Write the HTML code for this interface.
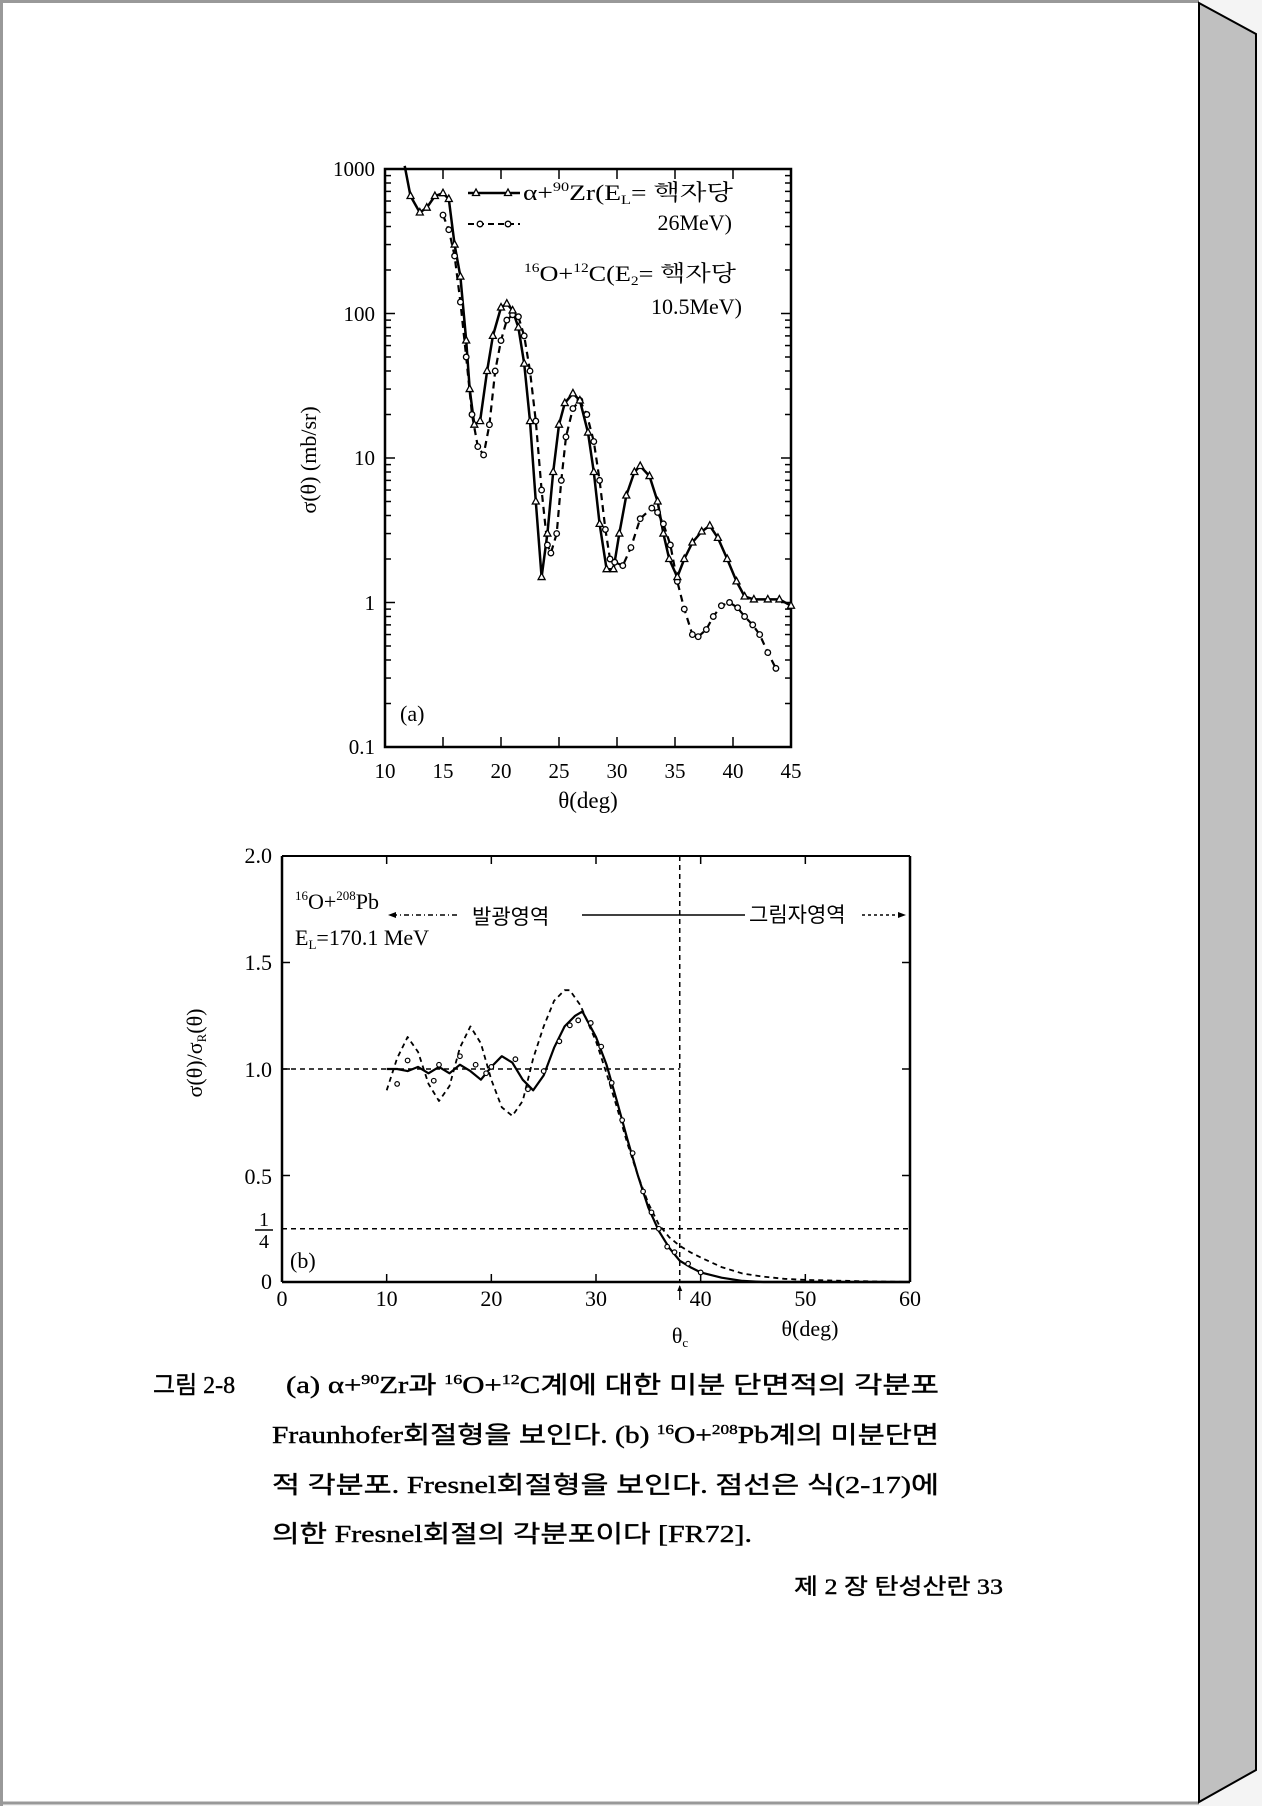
<!DOCTYPE html>
<html><head><meta charset="utf-8">
<style>
html,body{margin:0;padding:0;background:#f4f4f4;}
body{width:1262px;height:1806px;position:relative;overflow:hidden;font-family:"Liberation Serif","Noto Serif CJK SC","Noto Sans CJK KR",serif;}
svg{position:absolute;left:0;top:0;}
</style></head><body>
<svg id="s" width="1262" height="1806" xmlns="http://www.w3.org/2000/svg" font-family="'Liberation Serif','Noto Serif CJK SC','Noto Sans CJK KR',serif" fill="#000">
<rect x="0" y="0" width="1200" height="1803" fill="#fff"/>
<line x1="0" y1="1.5" x2="1199" y2="1.5" stroke="#999" stroke-width="3"/>
<line x1="0" y1="1803" x2="1199" y2="1803" stroke="#999" stroke-width="3"/>
<line x1="1.5" y1="0" x2="1.5" y2="1806" stroke="#999" stroke-width="3"/>
<polygon points="1199,3 1256,34 1256,1770 1199,1802" fill="#c0c0c0" stroke="#000" stroke-width="2"/>
<g id="g"></g>
<g font-size="21">
<text x="375" y="176" text-anchor="end">1000</text>
<text x="375" y="321" text-anchor="end">100</text>
<text x="375" y="465" text-anchor="end">10</text>
<text x="375" y="610" text-anchor="end">1</text>
<text x="375" y="754" text-anchor="end">0.1</text>
<text x="588" y="808" text-anchor="middle" font-size="23">θ(deg)</text>
<text transform="translate(316,460) rotate(-90)" text-anchor="middle" font-size="22">σ(θ) (mb/sr)</text>
<text x="400" y="721" font-size="22">(a)</text>
<text x="523" y="200" font-size="22" textLength="210" lengthAdjust="spacingAndGlyphs">α+<tspan font-size="13" dy="-9">90</tspan><tspan dy="9">Zr(E</tspan><tspan font-size="13" dy="4">L</tspan><tspan dy="-4">= 핵자당</tspan></text>
<text x="732" y="230" text-anchor="end" font-size="22">26MeV)</text>
<text x="524" y="281" font-size="22" textLength="212" lengthAdjust="spacingAndGlyphs"><tspan font-size="13" dy="-9">16</tspan><tspan dy="9">O+</tspan><tspan font-size="13" dy="-9">12</tspan><tspan dy="9">C(E</tspan><tspan font-size="13" dy="4">2</tspan><tspan dy="-4">= 핵자당</tspan></text>
<text x="742" y="314" text-anchor="end" font-size="22">10.5MeV)</text>
</g>
<g font-size="22">
<text x="272" y="863" text-anchor="end">2.0</text>
<text x="272" y="970" text-anchor="end">1.5</text>
<text x="272" y="1077" text-anchor="end">1.0</text>
<text x="272" y="1184" text-anchor="end">0.5</text>
<text x="264" y="1226" text-anchor="middle" font-size="20">1</text>
<line x1="255" y1="1230" x2="273" y2="1230" stroke="#000" stroke-width="1.5"/>
<text x="264" y="1248" text-anchor="middle" font-size="20">4</text>
<text x="272" y="1289" text-anchor="end">0</text>
<text x="290" y="1268">(b)</text>
<text x="295" y="909"><tspan font-size="13" dy="-9">16</tspan><tspan dy="9">O+</tspan><tspan font-size="13" dy="-9">208</tspan><tspan dy="9">Pb</tspan></text>
<text x="295" y="945">E<tspan font-size="13" dy="4">L</tspan><tspan dy="-4">=170.1 MeV</tspan></text>
<text x="472" y="924" font-size="21" font-family="'Noto Sans CJK KR',sans-serif">발광영역</text>
<text x="749" y="922" font-size="21" font-family="'Noto Sans CJK KR',sans-serif">그림자영역</text>
<text transform="translate(202,1053) rotate(-90)" text-anchor="middle" font-size="22">σ(θ)/σ<tspan font-size="13" dy="4">R</tspan><tspan dy="-4">(θ)</tspan></text>
<text x="680" y="1343" text-anchor="middle">θ<tspan font-size="13" dy="4">c</tspan></text>
<text x="810" y="1336" text-anchor="middle">θ(deg)</text>
</g>
<g font-size="24" font-family="'Liberation Serif','Noto Sans CJK KR',serif" stroke="#000" stroke-width="0.4">
<text x="153" y="1393">그림 2-8</text>
<text x="286" y="1393" textLength="653" lengthAdjust="spacingAndGlyphs">(a) α+<tspan font-size="14" dy="-9">90</tspan><tspan dy="9">Zr과 </tspan><tspan font-size="14" dy="-9">16</tspan><tspan dy="9">O+</tspan><tspan font-size="14" dy="-9">12</tspan><tspan dy="9">C계에 대한 미분 단면적의 각분포</tspan></text>
<text x="272" y="1443" textLength="667" lengthAdjust="spacingAndGlyphs">Fraunhofer회절형을 보인다. (b) <tspan font-size="14" dy="-9">16</tspan><tspan dy="9">O+</tspan><tspan font-size="14" dy="-9">208</tspan><tspan dy="9">Pb계의 미분단면</tspan></text>
<text x="272" y="1493" textLength="667" lengthAdjust="spacingAndGlyphs">적 각분포. Fresnel회절형을 보인다. 점선은 식(2-17)에</text>
<text x="272" y="1542" textLength="480" lengthAdjust="spacingAndGlyphs">의한 Fresnel회절의 각분포이다 [FR72].</text>
<text x="794" y="1594" font-size="22" textLength="209" lengthAdjust="spacingAndGlyphs">제 2 장 탄성산란 33</text>
</g>
</svg>
<script>
var NS="http://www.w3.org/2000/svg",g=document.getElementById("g");
function el(t,a){var e=document.createElementNS(NS,t);for(var k in a)e.setAttribute(k,a[k]);g.appendChild(e);return e;}
function line(x1,y1,x2,y2,w,d){var a={x1:x1,y1:y1,x2:x2,y2:y2,stroke:"#000","stroke-width":w||1.5};if(d)a["stroke-dasharray"]=d;el("line",a);}
var L=385,R=791,T=169,B=747;
function X(t){return L+(t-10)*11.6;}function Y(v){return B-(Math.log10(v)+1)*144.5;}
el("rect",{x:L,y:T,width:R-L,height:B-T,fill:"none",stroke:"#000","stroke-width":2.5});
for(var d=-1;d<3;d++)for(var m=1;m<10;m++){var y=Y(m*Math.pow(10,d));var len=m==1?10:6;line(L,y,L+len,y,1.5);line(R,y,R-len,y,1.5);}
for(var t=15;t<45;t+=5){line(X(t),B,X(t),B-10,1.5);line(X(t),T,X(t),T+10,1.5);}
for(var t=10;t<=45;t+=5){var tx=el("text",{x:X(t),y:778,"text-anchor":"middle","font-size":21});tx.textContent=t;}
var A=[[11.7,1050],[12.2,650],[13,500],[13.6,540],[14.3,650],[15,680],[15.5,620],[16,300],[16.5,180],[17,65],[17.3,30],[17.7,17],[18.2,18],[18.8,40],[19.3,70],[20,110],[20.5,117],[21,105],[21.5,80],[22,45],[22.5,18],[23,5],[23.5,1.5],[24,3],[24.5,8],[25,17],[25.5,24],[26.2,28],[26.8,25],[27.5,15],[28,8],[28.5,3.5],[29.1,1.7],[29.7,1.7],[30.2,3],[30.8,5.5],[31.5,8],[32,8.8],[32.8,7.5],[33.5,5],[34,3],[34.5,2],[35.2,1.5],[35.8,2],[36.5,2.6],[37.3,3.1],[38,3.4],[38.7,2.8],[39.5,2],[40.3,1.4],[41,1.1],[41.8,1.05],[43,1.05],[44,1.05],[45,0.95]];
var C=[[15,480],[15.5,380],[16,250],[16.5,120],[17,50],[17.5,20],[18,12],[18.5,10.5],[19,17],[19.5,40],[20,65],[20.5,90],[21,98],[21.5,95],[22,70],[22.5,40],[23,18],[23.5,6],[24,2.5],[24.3,2.2],[24.8,3],[25.2,7],[25.6,14],[26.2,22],[26.8,25],[27.4,20],[28,13],[28.5,7],[29,3.2],[29.4,2],[29.8,1.9],[30.5,1.8],[31.2,2.4],[32,3.8],[33,4.5],[33.5,4.2],[34,3.5],[34.6,2.5],[35.2,1.4],[35.8,0.9],[36.5,0.6],[37,0.58],[37.7,0.65],[38.3,0.8],[39,0.95],[39.7,1.0],[40.4,0.92],[41,0.8],[41.7,0.7],[42.3,0.6],[43,0.45],[43.7,0.35]];
function path(P,fx,fy,w,da){var s="M";P.forEach(function(p,i){s+=(i?" L":"")+fx(p[0]).toFixed(1)+","+fy(p[1]).toFixed(1);});var a={d:s,fill:"none",stroke:"#000","stroke-width":w,"stroke-linejoin":"round"};if(da)a["stroke-dasharray"]=da;el("path",a);}
path(A,X,Y,2.5);path(C,X,Y,2.2,"7,5");
C.forEach(function(p){el("circle",{cx:X(p[0]),cy:Y(p[1]),r:2.8,fill:"#fff",stroke:"#000","stroke-width":1.3});});
A.slice(1).forEach(function(p){var x=X(p[0]),y=Y(p[1]);el("polygon",{points:(x)+","+(y-4)+" "+(x-3.5)+","+(y+2.5)+" "+(x+3.5)+","+(y+2.5),fill:"#fff",stroke:"#000","stroke-width":1.3});});
line(468,193,520,193,2.5);[476,508].forEach(function(x){el("polygon",{points:x+",189 "+(x-3.5)+",195.5 "+(x+3.5)+",195.5",fill:"#fff",stroke:"#000","stroke-width":1.3});});
line(468,224,520,224,2,"6,4");[480,508].forEach(function(x){el("circle",{cx:x,cy:224,r:2.8,fill:"#fff",stroke:"#000","stroke-width":1.3});});
var L2=282,R2=910,T2=856,B2=1282;
function X2(t){return L2+t*(R2-L2)/60;}function Y2(v){return B2-v*213;}
line(L2,T2,R2,T2,2);line(L2,B2,R2,B2,2.5);line(L2,T2,L2,B2,2.5);line(R2,T2,R2,B2,2.5);
for(var t=10;t<60;t+=10){line(X2(t),B2,X2(t),B2-8,1.5);line(X2(t),T2,X2(t),T2+8,1.5);}
for(var v=0.5;v<2;v+=0.5){line(L2,Y2(v),L2+8,Y2(v),1.5);line(R2,Y2(v),R2-8,Y2(v),1.5);}
for(var t=0;t<=60;t+=10){var tx=el("text",{x:X2(t),y:1306,"text-anchor":"middle","font-size":22});tx.textContent=t;}
line(L2,Y2(1),X2(38),Y2(1),1.5,"5,4");line(L2,Y2(0.25),R2,Y2(0.25),1.5,"5,4");line(X2(38),T2,X2(38),B2,1.5,"5,4");
line(X2(38),B2+18,X2(38),B2+4,1.2);el("polygon",{points:X2(38)+","+(B2+3)+" "+(X2(38)-2.5)+","+(B2+9)+" "+(X2(38)+2.5)+","+(B2+9)});
line(392,915,459,915,1.5,"5,3,1,3");el("polygon",{points:"388,915 396,912 396,918"});
line(582,915,745,915,1.5);line(862,915,902,915,1.5,"3,3");el("polygon",{points:"906,915 898,912 898,918"});
var S=[[10,1.0],[11,1.0],[12,0.99],[13,1.01],[14,0.98],[15,1.01],[16,0.98],[17,1.02],[18,0.99],[19,0.95],[20,1.01],[21,1.06],[22,1.03],[23,0.95],[24,0.9],[25,0.97],[26,1.1],[27,1.2],[28,1.25],[28.7,1.27],[30,1.15],[31,1.02],[32,0.85],[33,0.67],[34,0.5],[35,0.35],[36,0.24],[37,0.16],[38,0.1],[39,0.07],[40,0.045],[42,0.02],[44,0.005],[46,0],[60,0]];
var F=[[10,0.9],[11,1.05],[12,1.15],[13,1.08],[14,0.93],[15,0.85],[16,0.92],[17,1.1],[18,1.2],[19,1.12],[20,0.95],[21,0.82],[22,0.78],[23,0.85],[24,1.05],[25,1.2],[26,1.32],[27,1.37],[27.5,1.37],[28.5,1.3],[30,1.13],[31,0.98],[32,0.82],[33,0.65],[34,0.5],[35,0.37],[36,0.27],[37,0.21],[38,0.17],[39,0.14],[40,0.115],[42,0.07],[44,0.04],[46,0.025],[48,0.015],[50,0.01],[55,0.004],[60,0]];
path(S,X2,Y2,2.2);path(F,X2,Y2,1.8,"5,4");
function sv(t){for(var i=1;i<S.length;i++)if(S[i][0]>=t){var a=S[i-1],b=S[i];return a[1]+(b[1]-a[1])*(t-a[0])/(b[0]-a[0]);}return 0;}
[[11,-0.07],[12,0.05],[14.5,-0.05],[15,0.01],[17,0.04],[18.5,0.05],[19.5,0],[20,0.0],[22.3,0.04],[23.5,-0.02],[25,0.02],[26.5,-0.02],[27.5,-0.02],[28.3,-0.03],[29.5,0.02],[30.5,0.02],[31.5,0],[32.5,0],[33.5,0.02],[34.5,0],[35.3,0.01],[36,0.01],[36.8,-0.01],[37.5,0.01],[38.8,0.01],[40,0]].forEach(function(p){var t=p[0];el("circle",{cx:X2(t),cy:Y2(sv(t)+p[1]),r:2.3,fill:"#fff",stroke:"#000","stroke-width":1.2});});
</script>
</body></html>
